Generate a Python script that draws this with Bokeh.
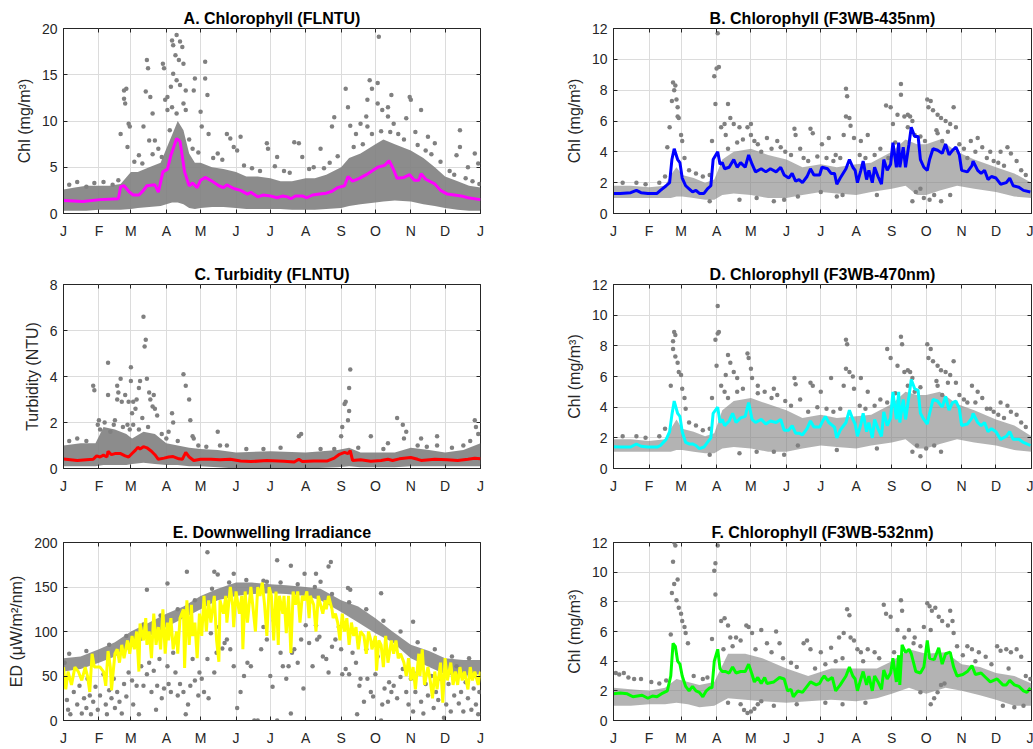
from bokeh.plotting import figure
from bokeh.layouts import column, row
from bokeh.models import FixedTicker, LinearAxis, Range1d
from bokeh.embed import file_html
from bokeh.resources import INLINE

# ---------------- data ----------------
MONTH_TICKS = [0, 31, 59, 90, 120, 151, 181, 212, 243, 273, 304, 334, 365]
MONTH_LABELS = ["J", "F", "M", "A", "M", "J", "J", "A", "S", "O", "N", "D", "J"]

# Panel A: Chlorophyll (FLNTU)
A_line = [(0,1.4),(17,1.3),(32,1.5),(48,1.6),(50,2.9),(53,3.0),(57,2.4),(61,2.0),(66,2.0),(70,2.5),(73,3.0),(80,3.1),(83,2.3),(87,4.5),(91,4.8),(94,6.3),(99,8.1),(102,7.8),(106,4.5),(110,3.0),(113,3.3),(117,2.8),(120,3.6),(124,3.9),(130,3.5),(136,3.0),(140,2.8),(143,3.1),(149,2.7),(155,2.5),(161,2.1),(164,2.3),(170,1.8),(175,2.0),(181,1.9),(187,1.7),(192,1.9),(196,1.8),(199,1.6),(203,1.9),(209,1.9),(213,1.7),(218,2.0),(224,2.1),(230,2.2),(235,2.4),(240,2.8),(246,3.0),(249,4.0),(253,3.5),(259,3.8),(265,4.2),(270,4.6),(275,5.0),(281,5.2),(285,5.7),(288,5.0),(292,3.8),(298,3.9),(303,4.2),(307,3.6),(311,3.6),(313,4.3),(317,3.7),(325,3.2),(330,2.5),(336,2.1),(342,2.0),(348,1.9),(354,1.7),(365,1.5)]
A_env_x = [0,10,20,31,40,50,59,65,75,85,90,95,100,105,110,115,120,130,140,151,160,170,181,190,200,212,220,230,243,250,260,273,280,290,304,315,325,334,345,355,365]
A_env_lo = [0.3,0.3,0.3,0.4,0.4,0.4,0.5,0.6,0.7,0.8,1.0,1.2,1.2,1.0,0.6,0.5,0.6,0.7,0.7,0.6,0.5,0.5,0.5,0.5,0.4,0.4,0.4,0.5,0.6,0.8,1.0,1.2,1.3,1.4,1.3,1.0,0.8,0.6,0.4,0.3,0.3]
A_env_hi = [2.6,2.8,3.0,3.0,3.0,3.2,4.5,4.5,5.0,5.5,7.0,8.5,10.0,9.0,6.5,5.5,5.5,5.0,4.8,4.5,4.0,4.0,3.8,3.5,3.5,3.8,3.8,4.2,5.0,6.0,6.5,7.5,8.0,7.5,6.8,6.0,5.0,4.0,3.5,3.0,2.8]
A_pts = [(53,12.4),(53,13.3),(55,13.5),(54,11.9),(50,8.6),(57,9.7),(56,7.2),(58,9.4),
         (73,16.6),(74,15.7),(72,13.2),(76,12.6),(78,10.8),(70,9.4),(75,7.9),(80,7.9),
         (87,16.2),(88,15.7),(89,12.3),(91,12.6),
         (95,18.7),(96,18.2),(99,19.3),(102,18.6),(104,18.0),(98,17.1),(101,16.6),(105,16.2),(96,15.1),(99,14.4),(94,13.7),(102,13.9),(105,11.9),(95,11.5),(91,11.2),(99,10.8),(107,11.2),(107,13.3),(115,14.6),(114,13.3),
         (124,16.4),(124,14.6),(126,12.8),(120,11.0),(121,9.4),(127,8.6),
         (143,8.6),(146,8.1),(149,7.2),(155,8.3),(152,6.8),
         (178,7.6),(179,7.0),(187,6.1),(202,7.7),(206,7.6),(209,6.1),(225,7.0),(219,5.0),
         (235,9.4),(237,10.4),(247,13.5),(249,11.5),(251,9.5),(256,8.6),(260,9.7),(265,10.5),(266,9.4),
         (268,14.4),(270,13.5),(266,12.3),(276,19.1),(275,14.1),(275,11.9),(279,11.2),(284,11.5),(287,12.8),(284,10.5),(289,9.7),
         (303,12.6),(304,12.3),(300,10.3),(313,11.2),(308,8.8),(319,8.3),(325,7.6),(317,6.8),
         (347,9.0),(347,7.2),(344,6.3),(360,6.5),(363,5.4),(354,5.0),
         (5,3.1),(12,3.4),(20,2.9),(27,3.3),(35,3.4),(43,3.1),(48,3.6),(62,5.6),(66,6.3),(69,5.4),(78,6.4),(83,7.0),(86,6.1),(93,9.0),(110,8.0),(113,7.0),(118,6.6),(131,6.0),(135,6.5),(139,5.8),(158,5.2),(165,4.9),(172,4.6),(185,5.1),(193,4.6),(198,4.4),(215,4.8),(228,4.9),(233,5.5),(240,6.2),(254,7.2),(262,7.5),(270,8.6),(278,8.9),(286,8.8),(293,8.6),(298,8.0),(310,7.4),(322,6.4),(330,5.6),(338,4.6),(342,4.2),(352,3.8),(358,3.5),(364,3.2)]

# Panel B: Chlorophyll (F3WB-435nm)
B_line = [(0,1.3),(6,1.3),(15,1.35),(20,1.5),(24,1.35),(30,1.3),(38,1.3),(41,1.5),(46,1.8),(49,2.0),(51,3.5),(53,4.2),(56,3.5),(58,3.3),(60,2.3),(63,1.8),(66,1.6),(69,1.4),(72,1.5),(75,1.3),(79,1.3),(82,1.6),(85,1.8),(87,3.5),(91,4.0),(93,3.2),(95,3.3),(97,2.9),(101,3.0),(105,3.5),(108,3.0),(111,3.3),(115,3.0),(118,3.8),(121,3.2),(124,2.7),(129,2.9),(133,2.7),(137,2.9),(142,2.7),(146,3.0),(149,2.5),(153,2.3),(156,2.6),(159,2.1),(162,2.2),(165,2.0),(169,2.4),(172,2.9),(175,2.5),(180,2.5),(182,3.0),(187,2.9),(190,2.6),(193,2.6),(195,1.9),(198,2.3),(203,2.9),(206,3.5),(209,3.0),(211,2.8),(213,2.0),(216,2.8),(218,3.4),(221,2.2),(223,2.8),(226,2.0),(228,3.0),(231,2.4),(234,1.9),(236,3.5),(239,2.8),(242,3.2),(244,4.6),(247,3.0),(249,4.6),(250,3.0),(253,4.3),(255,3.0),(258,4.5),(260,5.6),(263,5.0),(266,5.0),(268,3.5),(271,3.0),(274,2.8),(276,3.5),(279,4.2),(283,4.1),(287,3.9),(290,4.5),(293,3.8),(296,4.1),(299,4.3),(302,3.8),(304,2.8),(309,2.7),(313,3.1),(314,3.4),(318,2.8),(321,2.6),(324,2.8),(327,2.2),(330,2.4),(334,2.3),(338,1.9),(343,2.0),(346,2.3),(349,1.8),(354,1.7),(358,1.5),(364,1.4)]
B_env_x = [0,15,31,45,50,55,60,70,80,88,95,105,120,135,151,165,181,195,212,225,243,255,265,273,285,300,315,334,350,365]
B_env_lo = [1.0,1.0,1.0,1.0,1.0,1.1,1.1,1.0,0.9,0.9,1.2,1.3,1.2,1.0,1.0,1.2,1.4,1.3,1.2,1.4,1.6,1.8,1.2,1.2,1.5,1.8,1.6,1.4,1.1,1.0]
B_env_hi = [1.8,1.8,1.7,1.8,2.5,3.0,2.5,2.3,2.0,2.2,3.5,4.0,4.2,3.8,3.5,3.0,3.2,3.0,3.2,3.3,4.0,4.8,4.5,4.5,4.8,4.0,3.5,3.0,2.6,2.0]
B_pts = [(52,8.5),(54,8.3),(53,8.0),(55,7.4),(51,7.3),(56,6.3),(57,6.2),(49,5.6),(59,5.1),(60,4.7),(47,4.3),(62,3.6),(56,6.9),
         (91,11.7),(88,8.9),(90,9.4),(92,9.5),(89,7.1),(86,4.7),(94,5.6),(97,5.8),(100,7.1),(102,6.2),(105,5.8),(110,5.6),(98,5.1),
         (117,5.6),(120,5.8),(120,5.1),(123,4.7),(129,4.0),(134,4.9),(143,4.7),(146,4.3),
         (158,5.5),(159,5.1),(172,5.5),(174,5.2),(166,3.6),
         (182,4.5),(188,4.9),(194,3.8),(203,8.1),(204,7.6),(203,6.3),(206,6.2),(207,5.7),(201,5.1),(210,4.9),(216,4.7),(222,5.1),
         (238,7.0),(242,6.9),(244,5.8),(251,8.4),(251,7.7),(248,6.4),(254,6.3),(257,6.4),(259,6.3),(261,6.0),(257,5.6),(240,3.6),(263,5.1),
         (274,7.4),(277,7.3),(275,6.9),(279,6.7),(283,6.4),(286,6.2),(290,6.0),(294,5.8),(297,6.9),(299,5.6),(283,5.2),(287,4.7),(272,4.7),
         (309,3.6),(312,4.7),(318,4.9),(322,4.3),(329,4.0),(338,4.0),(344,4.3),(347,3.9),(352,3.4),
         (261,0.8),(264,1.4),(268,1.6),(271,1.0),(276,0.9),(280,1.2),(286,0.8),(294,1.2),(140,0.8),(149,0.9),(161,1.1),(181,1.4),(200,1.2),
         (8,2.0),(20,2.0),(28,1.9),(40,2.0),(45,2.4),(66,2.8),(72,2.6),(78,2.4),(84,2.5),(100,4.2),(108,4.6),(113,4.8),(126,4.5),(138,4.2),(150,4.0),(155,3.8),(163,4.2),(170,3.4),(178,3.7),(186,3.6),(192,3.4),(198,3.6),(215,3.8),(220,3.6),(228,3.8),(233,4.2),(246,4.6),(268,5.0),(282,5.4),(292,5.3),(302,4.5),(306,4.2),(316,4.0),(326,3.6),(332,3.4),(336,3.3),(341,3.1),(356,2.8),(360,2.5),(84,0.8),(110,0.9),(125,1.0),(195,1.1),(230,1.2)]

# Panel C: Turbidity (FLNTU)
C_line = [(0,0.41),(12,0.35),(20,0.38),(26,0.4),(29,0.55),(32,0.5),(35,0.58),(38,0.5),(39,0.75),(42,0.6),(45,0.65),(50,0.65),(54,0.55),(57,0.5),(60,0.65),(63,0.8),(65,0.92),(67,0.85),(70,0.95),(73,0.9),(77,0.75),(80,0.6),(83,0.4),(88,0.45),(92,0.5),(96,0.52),(101,0.42),(104,0.4),(107,0.7),(110,0.5),(114,0.35),(120,0.4),(129,0.4),(137,0.38),(146,0.4),(155,0.33),(164,0.3),(178,0.35),(193,0.32),(202,0.28),(206,0.4),(209,0.3),(219,0.33),(231,0.33),(237,0.45),(241,0.6),(246,0.7),(249,0.65),(251,0.78),(253,0.35),(260,0.38),(269,0.32),(278,0.35),(284,0.4),(288,0.35),(294,0.42),(298,0.45),(304,0.48),(310,0.4),(313,0.35),(325,0.4),(336,0.38),(345,0.35),(354,0.4),(360,0.45),(365,0.42)]
C_env_x = [0,15,28,35,45,55,60,70,80,90,100,110,120,135,151,181,212,240,250,260,273,290,304,320,334,350,365]
C_env_lo = [0.1,0.1,0.1,0.15,0.15,0.15,0.2,0.25,0.2,0.15,0.15,0.1,0.1,0.05,0.0,0.0,0.0,0.05,0.1,0.05,0.05,0.05,0.1,0.1,0.1,0.1,0.1]
C_env_hi = [1.0,1.1,1.1,1.8,1.7,1.5,1.3,1.6,1.5,1.1,1.0,0.9,0.85,0.8,0.7,0.75,0.7,0.8,0.9,0.7,0.7,0.7,0.9,0.8,0.7,0.8,1.1]
C_pts = [(26,3.6),(27,3.4),(39,4.6),(39,3.2),(31,2.1),(32,1.7),(41,1.6),(45,2.1),
         (47,3.6),(48,3.3),(47,3.0),(50,3.9),(51,2.9),(54,3.2),(57,2.9),(59,4.4),(59,3.8),(60,2.4),(61,2.9),(63,2.6),(64,3.0),(66,3.5),(67,3.8),(69,2.2),(70,6.6),(71,5.3),(72,5.6),(73,3.9),(75,3.3),(76,3.0),(78,2.7),(79,3.2),(80,2.6),(82,2.3),(61,1.9),(56,1.9),(66,1.7),
         (95,2.4),(96,2.0),(92,1.6),(105,4.1),(107,3.6),(110,3.0),(111,2.1),(113,1.4),(114,1.3),(135,1.6),(137,1.0),(143,1.0),
         (206,1.4),(208,1.5),(243,1.4),(244,1.8),(246,2.8),(247,2.9),(250,2.5),(249,2.1),(251,4.3),(250,3.5),(237,0.85),
         (269,1.4),(284,1.1),(292,2.2),(297,1.9),(300,1.6),(298,1.3),(313,1.3),(327,1.0),(327,1.4),(360,2.1),(361,1.8),(363,1.5),
         (5,1.2),(12,1.3),(20,1.2),(30,1.9),(36,2.0),(44,1.9),(52,1.8),(58,1.7),(74,1.8),(86,1.5),(90,1.3),(100,1.2),(118,1.0),(125,0.95),(160,0.85),(175,0.85),(190,0.9),(225,0.85),(258,0.9),(280,0.85),(310,1.0),(318,0.95),(340,0.9),(350,1.0),(356,1.2)]

# Panel D: Chlorophyll (F3WB-470nm)
D_line = [(0,1.42),(6,1.4),(15,1.4),(20,1.6),(24,1.45),(30,1.4),(38,1.4),(41,1.5),(46,1.9),(49,2.4),(51,3.5),(53,4.4),(56,3.6),(58,3.4),(60,2.4),(63,1.7),(66,1.6),(69,1.6),(72,1.5),(75,1.3),(79,1.4),(82,1.7),(85,2.0),(87,3.6),(91,4.0),(93,3.0),(95,3.2),(97,2.8),(101,3.1),(104,3.6),(107,3.0),(111,3.3),(115,3.4),(118,4.3),(121,3.2),(124,3.0),(129,3.2),(133,2.9),(137,3.1),(142,3.0),(146,3.2),(149,2.5),(153,2.5),(156,2.8),(159,2.3),(162,2.3),(165,2.2),(169,2.6),(172,3.1),(175,2.7),(180,2.7),(182,3.0),(185,3.4),(188,3.0),(193,2.7),(195,2.0),(198,2.5),(203,3.0),(206,3.8),(209,3.2),(211,2.9),(213,2.1),(216,2.9),(218,3.6),(221,2.4),(223,3.0),(226,2.0),(228,3.2),(231,2.6),(234,2.1),(236,3.7),(239,2.8),(242,3.3),(244,5.0),(247,3.2),(249,5.0),(250,3.0),(253,4.5),(255,3.2),(258,4.7),(260,5.8),(263,5.2),(266,5.1),(268,3.6),(271,3.2),(274,2.9),(276,3.6),(279,4.5),(283,4.4),(287,4.0),(290,4.7),(293,3.8),(296,4.3),(299,4.4),(302,3.9),(304,2.8),(309,2.9),(313,3.3),(314,3.6),(318,3.0),(321,2.8),(324,3.0),(327,2.4),(330,2.6),(334,2.4),(338,1.9),(343,2.1),(346,2.4),(349,1.9),(354,1.9),(358,1.7),(364,1.5)]
D_env_x = [0,15,31,45,50,55,60,70,80,88,95,105,120,135,151,165,181,195,212,225,243,255,265,273,285,300,315,334,350,365]
D_env_lo = [1.1,1.1,1.1,1.1,1.1,1.2,1.2,1.1,1.0,1.0,1.3,1.4,1.3,1.1,1.1,1.3,1.5,1.4,1.3,1.5,1.7,1.9,1.3,1.3,1.6,1.9,1.7,1.5,1.2,1.1]
D_env_hi = [1.9,1.9,1.8,1.9,2.6,3.2,2.6,2.4,2.1,2.3,3.8,4.4,4.6,4.2,3.8,3.3,3.5,3.3,3.4,3.5,4.2,5.0,4.8,4.8,5.0,4.2,3.8,3.2,2.8,2.1]
D_pts = [(53,8.9),(54,8.7),(52,8.3),(52,7.8),(54,7.3),(56,6.9),(57,6.3),(59,6.1),(50,5.4),(60,5.2),(62,4.6),(63,3.9),
         (91,10.6),(89,8.4),(91,8.8),(92,8.9),(90,6.7),(86,4.6),(94,5.4),(98,6.1),(100,7.4),(102,6.9),(105,6.3),(108,5.9),(97,5.0),
         (117,7.5),(118,7.2),(120,6.5),(121,5.9),(126,5.4),(132,5.0),(140,5.2),(143,4.8),
         (158,5.9),(159,5.5),(172,5.6),(174,5.4),(181,5.0),(190,5.9),
         (203,8.4),(204,8.1),(203,6.5),(206,6.3),(209,6.0),(201,5.4),(210,5.2),(216,5.9),(222,5.0),
         (239,7.8),(242,7.2),(251,8.6),(252,8.1),(248,6.7),(254,6.3),(257,6.4),(259,6.3),(261,5.9),(257,5.4),(263,5.0),(239,4.3),
         (274,8.1),(277,7.8),(275,7.2),(279,7.0),(283,6.7),(286,6.4),(290,6.3),(294,6.1),(297,7.0),(299,5.6),(283,5.4),(287,4.8),
         (309,4.3),(313,5.4),(318,5.0),(322,4.6),(329,3.9),(338,4.3),(344,4.1),(347,3.7),(352,3.5),
         (261,1.1),(265,1.5),(268,0.8),(273,1.3),(280,1.5),(286,1.1),(149,0.9),(140,1.1),(161,1.5),
         (8,2.1),(20,2.1),(28,2.0),(40,2.1),(45,2.6),(66,3.0),(72,2.8),(78,2.5),(84,2.6),(100,4.6),(108,5.0),(113,5.2),(126,4.9),(138,4.6),(150,4.4),(155,4.1),(163,4.5),(170,3.7),(178,4.0),(186,3.9),(192,3.7),(198,3.9),(215,4.1),(220,3.9),(228,4.1),(233,4.5),(246,4.9),(268,5.3),(282,5.7),(292,5.6),(302,4.8),(306,4.5),(316,4.3),(326,3.9),(332,3.7),(336,3.5),(341,3.3),(356,3.0),(360,2.7),(84,0.9),(110,1.0),(125,1.1),(195,1.2),(230,1.3)]

# Panel E: Downwelling Irradiance
E_line = [(0,60),(2,35),(4,55),(7,40),(10,60),(13,55),(16,45),(19,60),(21,50),(23,32),(25,75),(27,60),(29,60),(32,60),(35,55),(37,39),(39,78),(41,60),(42,34),(45,75),(47,80),(49,65),(51,85),(53,70),(56,90),(58,75),(60,95),(62,80),(64,100),(66,55),(67,109),(70,90),(72,115),(73,85),(75,100),(77,70),(79,120),(81,85),(83,105),(85,80),(87,125),(89,75),(91,110),(92,90),(94,115),(96,80),(99,100),(100,75),(102,115),(105,125),(106,59),(108,135),(110,85),(112,130),(113,95),(115,110),(117,70),(119,120),(121,95),(123,140),(125,100),(127,135),(129,110),(132,140),(134,90),(136,66),(137,135),(140,120),(142,140),(143,110),(146,150),(148,130),(149,105),(151,145),(154,120),(156,140),(157,80),(159,145),(161,110),(164,150),(166,125),(168,100),(170,150),(172,140),(174,155),(176,130),(178,95),(180,150),(182,140),(184,90),(186,145),(188,85),(189,140),(192,120),(193,140),(195,98),(197,140),(199,76),(201,145),(203,130),(205,145),(207,110),(209,140),(211,135),(213,145),(215,115),(216,140),(219,130),(221,100),(223,140),(225,130),(227,120),(229,135),(230,125),(232,140),(235,125),(236,115),(238,120),(240,110),(242,90),(244,120),(246,100),(248,115),(250,85),(252,110),(254,95),(256,105),(258,80),(260,100),(263,95),(265,75),(267,100),(269,90),(270,80),(273,95),(274,56),(276,90),(278,85),(280,60),(282,95),(284,65),(287,90),(289,75),(291,90),(293,70),(295,75),(298,65),(300,50),(302,70),(304,45),(306,60),(308,35),(311,75),(312,50),(314,80),(316,40),(319,60),(321,45),(323,25),(325,55),(327,35),(330,65),(332,20),(334,70),(336,45),(339,65),(341,40),(343,55),(345,40),(347,60),(349,45),(351,55),(354,35),(356,60),(358,45),(360,55),(363,40),(365,55)]
E_env_x = [0,15,31,45,59,75,90,105,120,135,151,165,181,195,212,225,243,258,273,288,304,320,334,350,365]
E_env_lo = [55,58,65,72,82,95,105,115,125,135,140,142,143,142,140,135,122,110,98,88,70,60,52,50,52]
E_env_hi = [70,72,80,88,100,110,120,128,140,148,155,155,153,152,150,148,135,128,115,100,85,78,70,68,68]
E_pts = [(1,65),(3,23),(4,12),(6,7),(9,32),(12,18),(14,39),(16,8),(18,25),(20,14),(21,47),(23,28),(24,7),(26,21),(28,38),(30,12),
         (32,28),(35,52),(37,18),(38,7),(40,34),(42,25),(44,47),(45,14),(47,32),(49,21),(51,8),(53,41),(55,27),(57,54),
         (60,45),(61,18),(64,39),(66,7),(68,61),(70,39),(73,52),(75,65),(77,32),(79,56),(81,12),(82,39),(84,69),(86,25),(88,36),
         (91,61),(92,41),(94,32),(96,76),(98,54),(100,28),(102,41),(105,32),(107,7),(109,18),(111,39),(113,69),(115,45),(118,28),(119,54),
         (121,47),(123,32),(126,69),(127,25),(129,98),(132,54),(134,76),(136,105),(139,81),(141,87),(143,91),(146,80),(149,61),
         (152,14),(155,32),(158,50),(161,65),(164,61),(167,0),(170,0),(173,80),(175,105),(178,91),(181,50),(183,38),(184,112),(187,0),
         (190,76),(192,61),(195,47),(197,61),(199,8),(200,76),(202,80),(205,65),(208,91),(210,36),(212,107),(215,87),(218,61),(221,107),(222,91),(224,94),
         (227,72),(230,69),(232,54),(235,83),(238,91),(241,105),(243,80),(244,52),(247,58),(250,52),(253,76),(256,65),(257,7),
         (259,39),(260,47),(263,21),(265,80),(266,47),(269,32),(271,27),(273,52),(275,72),(278,0),(279,18),(281,36),(284,21),(285,43),(287,32),
         (289,39),(292,25),(295,49),(297,58),(300,32),(302,18),(304,47),(306,10),(308,32),(310,54),(313,21),(315,8),(317,41),
         (319,28),(322,50),(324,14),(326,32),(328,23),(330,47),(333,3),(335,18),(337,41),(339,10),(342,28),(344,61),(346,19),(348,32),
         (350,10),(352,43),(354,25),(357,12),(359,36),(361,18),(363,7),(364,32),
         (126,189),(108,167),(132,167),(135,164),(149,165),(187,180),(199,174),(234,178),(232,173),(221,165),(225,156),(91,154),(73,147),(278,143),(249,149),(251,147),(211,165),(178,156),(306,111),
         (5,75),(20,78),(40,85),(55,95),(70,108),(85,118),(100,125),(115,135),(130,148),(145,155),(160,158),(175,157),(190,155),(205,153),(220,150),(235,142),(250,133),(265,125),(280,112),(295,100),(310,88),(325,80),(340,72),(355,70)]

# Panel F: Chlorophyll (F3WB-532nm)
F_line = [(0,1.8),(6,1.85),(12,1.8),(17,1.6),(21,1.65),(25,1.7),(30,1.5),(34,1.65),(38,1.6),(43,1.85),(47,2.0),(50,3.0),(52,5.2),(54,5.0),(56,4.0),(58,3.8),(60,3.0),(63,2.3),(66,2.0),(69,2.3),(72,2.0),(75,1.9),(78,1.6),(81,2.0),(84,2.2),(86,2.2),(88,4.0),(91,4.8),(93,3.5),(95,3.3),(98,3.3),(101,3.2),(104,3.6),(107,3.2),(111,3.3),(115,3.3),(118,3.8),(121,3.1),(123,2.6),(126,2.9),(129,2.5),(132,2.9),(134,2.5),(140,2.6),(145,2.9),(149,2.8),(152,2.0),(155,2.1),(157,1.6),(161,2.0),(165,1.9),(169,2.3),(172,2.6),(177,2.4),(180,2.5),(182,2.8),(184,3.0),(187,2.7),(191,2.9),(194,2.0),(198,2.4),(203,3.0),(206,3.6),(209,3.0),(211,2.8),(213,2.0),(216,2.8),(218,3.3),(221,2.4),(223,3.0),(226,2.0),(228,3.0),(231,2.6),(234,2.1),(236,3.4),(239,2.8),(242,3.2),(244,4.2),(247,2.6),(249,4.4),(250,2.4),(252,5.1),(255,4.6),(258,4.8),(260,4.5),(264,3.3),(268,3.2),(271,3.6),(274,5.4),(276,4.2),(280,4.1),(284,4.9),(287,3.8),(290,4.5),(294,4.6),(297,3.6),(300,3.0),(305,3.1),(309,3.3),(313,3.7),(316,3.1),(321,3.2),(325,2.9),(329,2.6),(335,2.8),(340,2.4),(343,2.4),(346,2.7),(350,2.4),(354,2.3),(358,2.0),(361,1.9),(364,2.2)]
F_env_x = [0,15,31,45,55,65,75,88,100,115,130,151,170,190,212,230,243,258,273,290,304,320,334,350,365]
F_env_lo = [1.0,1.0,1.1,1.1,1.2,1.1,0.9,1.0,1.5,1.4,1.3,1.2,1.3,1.4,1.3,1.5,1.8,2.2,1.8,2.2,2.0,1.7,1.4,1.0,1.0]
F_env_hi = [2.2,2.1,2.0,2.2,2.8,2.6,2.4,2.6,4.5,4.5,4.2,3.5,3.0,3.5,3.5,3.5,4.0,4.8,4.5,4.6,3.8,3.6,3.2,3.0,2.5]
F_pts = [(53,12.0),(54,11.8),(52,10.7),(53,9.2),(56,9.5),(51,8.6),(55,8.1),(57,7.6),(59,7.2),(60,6.7),(62,6.3),(50,5.8),(63,5.9),(65,5.2),
         (88,10.1),(89,10.6),(91,11.8),(89,8.5),(86,5.5),(94,6.7),(97,6.9),(100,6.4),(102,5.6),(107,5.6),(111,5.4),(116,6.4),(118,6.3),(121,5.9),(129,6.1),(134,5.2),(142,6.0),(145,5.2),
         (111,1.1),(114,0.7),(117,0.5),(120,0.6),(123,0.8),(126,1.1),(129,1.3),
         (166,5.2),(169,5.4),(172,4.8),(181,4.6),(190,4.9),
         (197,5.6),(201,5.9),(204,7.5),(206,7.1),(207,5.6),(210,5.4),(213,4.8),(216,4.6),(222,4.8),(228,4.6),
         (236,7.8),(238,7.2),(242,7.0),(251,8.1),(252,7.4),(248,6.1),(254,5.6),(258,6.1),(263,5.6),
         (274,7.9),(276,7.7),(278,7.4),(281,7.6),(284,7.0),(287,6.7),(292,6.4),(294,7.4),(296,6.7),(297,5.9),(271,6.3),(277,6.1),
         (277,1.1),(280,1.5),(283,1.9),(286,2.4),(289,2.5),(268,1.9),
         (309,5.0),(313,4.8),(319,4.6),(325,4.3),(335,5.0),(338,4.7),(343,4.8),(347,4.6),(352,4.8),(356,4.3),
         (2,3.2),(5,3.1),(9,3.2),(13,2.9),(18,2.8),(24,2.8),(33,2.6),
         (40,2.5),(46,2.7),(70,3.0),(78,2.8),(82,2.9),(96,4.8),(104,5.0),(124,4.8),(138,4.6),(148,4.2),(155,3.9),(160,3.6),(176,3.5),(185,3.8),(194,4.0),(200,4.2),(218,4.0),(232,4.2),(245,4.6),(262,5.2),(268,5.0),(300,5.0),(305,4.4),(316,4.0),(330,3.8),(345,3.5),(360,3.0),(364,2.8),(100,1.2),(140,1.0),(160,1.1),(185,1.2),(200,1.1),(220,1.2),(340,1.0),(350,0.9),(358,1.0)]

# ---------------- styling ----------------
FONT = "Liberation Sans"
AX = "#262626"
GRAY = "#808080"
GRID = "#dcdcdc"


def panel(title, ylabel, ymax, yticks, env_x, env_lo, env_hi, band_alpha, pts, line, color, col, rowi):
    W = 540 if col == 0 else 493
    bl, br = (63, 60) if col == 0 else (73, 2)
    H, bt, bb = [(248, 28, 35), (252, 36, 32), (248, 42, 24)][rowi]
    p = figure(width=W, height=H, x_range=Range1d(0, 365), y_range=Range1d(0, ymax),
               output_backend="svg", toolbar_location=None,
               min_border_left=bl, min_border_right=br, min_border_top=bt, min_border_bottom=bb,
               background_fill_color="white", border_fill_color="white")
    p.title.text = title
    p.title.align = "center"
    p.title.text_font = FONT
    p.title.text_font_size = "16px"
    p.title.text_font_style = "bold"
    p.title.text_color = "#000000"
    p.title.standoff = 4
    p.outline_line_color = AX
    p.outline_line_width = 1

    xt = FixedTicker(ticks=MONTH_TICKS)
    yt = FixedTicker(ticks=yticks)
    p.xaxis.ticker = xt
    p.xaxis.major_label_overrides = {t: l for t, l in zip(MONTH_TICKS, MONTH_LABELS)}
    p.yaxis.ticker = yt
    for ax in (p.xaxis[0], p.yaxis[0]):
        ax.axis_line_color = AX
        ax.major_tick_line_color = AX
        ax.major_tick_in = 4
        ax.major_tick_out = 0
        ax.minor_tick_line_color = None
        ax.major_label_text_font = FONT
        ax.major_label_text_font_size = "14px"
        ax.major_label_text_color = AX
    p.xaxis.major_label_standoff = 9
    p.yaxis.major_label_standoff = 6
    p.yaxis.axis_label = ylabel
    p.yaxis.axis_label_text_font = FONT
    p.yaxis.axis_label_text_font_size = "16px"
    p.yaxis.axis_label_text_font_style = "normal"
    p.yaxis.axis_label_text_color = AX
    p.yaxis.axis_label_standoff = 6

    # tick marks on the top and right edges (box style)
    top = LinearAxis(ticker=FixedTicker(ticks=MONTH_TICKS),
                     major_label_overrides={t: "" for t in MONTH_TICKS},
                     major_label_text_font_size="1px", major_label_standoff=0,
                     major_tick_in=4, major_tick_out=0, major_tick_line_color=AX,
                     minor_tick_line_color=None, axis_line_color=None)
    right = LinearAxis(ticker=FixedTicker(ticks=yticks),
                       major_label_overrides={t: "" for t in yticks},
                       major_label_text_font_size="1px", major_label_standoff=0,
                       major_tick_in=4, major_tick_out=0, major_tick_line_color=AX,
                       minor_tick_line_color=None, axis_line_color=None)
    p.add_layout(top, "above")
    p.add_layout(right, "right")

    p.xgrid.ticker = xt
    p.ygrid.ticker = yt
    p.xgrid.grid_line_color = GRID
    p.ygrid.grid_line_color = GRID

    p.varea(x=env_x, y1=env_lo, y2=env_hi, fill_color=GRAY, fill_alpha=band_alpha)
    px = [a for a, b in pts]
    py = [b for a, b in pts]
    p.scatter(px, py, size=4.5, fill_color=GRAY, line_color=None)
    lx = [a for a, b in line]
    ly = [b for a, b in line]
    p.line(lx, ly, line_color=color, line_width=3)
    return p


pA = panel("A. Chlorophyll (FLNTU)", "Chl (mg/m³)", 20, [0, 5, 10, 15, 20],
           A_env_x, A_env_lo, A_env_hi, 0.9, A_pts, A_line, "#ff00ff", 0, 0)
pB = panel("B. Chlorophyll (F3WB-435nm)", "Chl (mg/m³)", 12, [0, 2, 4, 6, 8, 10, 12],
           B_env_x, B_env_lo, B_env_hi, 0.6, B_pts, B_line, "#0000ff", 1, 0)
pC = panel("C. Turbidity (FLNTU)", "Turbidity (NTU)", 8, [0, 2, 4, 6, 8],
           C_env_x, C_env_lo, C_env_hi, 0.9, C_pts, C_line, "#ff0000", 0, 1)
pD = panel("D. Chlorophyll (F3WB-470nm)", "Chl (mg/m³)", 12, [0, 2, 4, 6, 8, 10, 12],
           D_env_x, D_env_lo, D_env_hi, 0.6, D_pts, D_line, "#00ffff", 1, 1)
pE = panel("E. Downwelling Irradiance", "ED (μW/m²/nm)", 200, [0, 50, 100, 150, 200],
           E_env_x, E_env_lo, E_env_hi, 0.85, E_pts, E_line, "#ffff00", 0, 2)
pF = panel("F. Chlorophyll (F3WB-532nm)", "Chl (mg/m³)", 12, [0, 2, 4, 6, 8, 10, 12],
           F_env_x, F_env_lo, F_env_hi, 0.6, F_pts, F_line, "#00ff00", 1, 2)

layout = column(row(pA, pB), row(pC, pD), row(pE, pF))
open("out.html", "w").write(file_html(layout, INLINE))
